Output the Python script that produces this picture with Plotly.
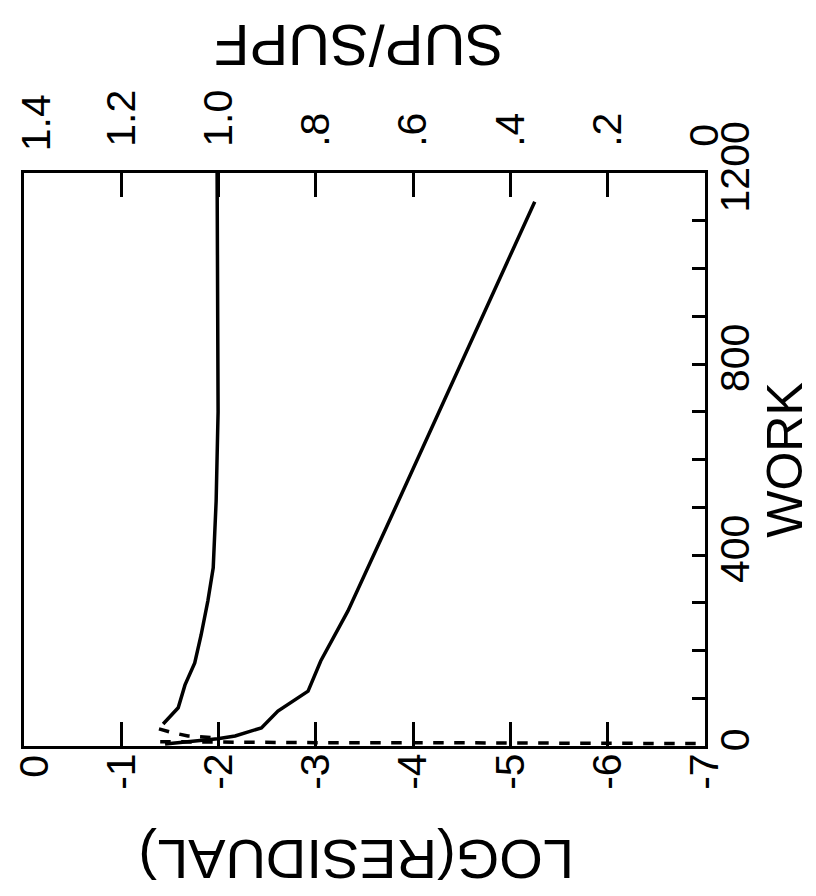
import plotly.graph_objects as go

# --- data ---
res_work = [4, 15, 21, 38, 73, 115, 178, 232, 283, 460, 660, 900, 1140]
res_log = [-1.45, -1.99, -2.17, -2.44, -2.61, -2.92, -3.05, -3.19, -3.33, -3.73, -4.18, -4.71, -5.25]

res2_work = [9, 8, 7, 7, 6, 6, 5]
res2_log = [-1.4, -2.0, -3.0, -4.0, -5.0, -6.0, -7.0]

sup_work = [46, 80, 128, 174, 232, 304, 373, 513, 700, 900, 1200]
sup_val = [1.114, 1.083, 1.069, 1.049, 1.036, 1.022, 1.011, 1.005, 1.001, 1.002, 1.003]

sup2_work = [36, 28, 21, 17]
sup2_val = [1.1225, 1.095, 1.063, 1.001]

work_ticks = list(range(0, 1201, 100))
work_text = [str(v) if v % 400 == 0 else "" for v in work_ticks]
log_ticks = [0, -1, -2, -3, -4, -5, -6, -7]
log_text = ["", "-1", "-2", "-3", "-4", "-5", "-6", "-7"]
sup_ticks = [1.4, 1.2, 1.0, 0.8, 0.6, 0.4, 0.2, 0.0]
sup_text = ["", "1.2", "1.0", ".8", ".6", ".4", ".2", "0"]

FONT = "Liberation Sans, Arial, sans-serif"
LW = 3.5
TICKFONT = dict(size=41, family=FONT, color="black")

fig = go.Figure()
fig.add_trace(go.Scatter(x=res_log, y=res_work, mode="lines", xaxis="x", yaxis="y",
                         line=dict(color="black", width=LW)))
fig.add_trace(go.Scatter(x=res2_log, y=res2_work, mode="lines", xaxis="x", yaxis="y",
                         line=dict(color="black", width=LW, dash="dash")))
fig.add_trace(go.Scatter(x=sup_val, y=sup_work, mode="lines", xaxis="x2", yaxis="y",
                         line=dict(color="black", width=LW)))
fig.add_trace(go.Scatter(x=sup2_val, y=sup2_work, mode="lines", xaxis="x2", yaxis="y",
                         line=dict(color="black", width=LW, dash="dash")))

common = dict(ticks="inside", tickwidth=3, tickcolor="black", showline=True, linewidth=3,
              linecolor="black", showgrid=False, zeroline=False, tickangle=-90,
              tickfont=TICKFONT, ticklabeloverflow="allow", automargin=False)

fig.update_layout(
    width=816, height=896,
    margin=dict(l=16, r=119, t=165, b=158, autoexpand=False),
    paper_bgcolor="white", plot_bgcolor="white",
    showlegend=False,
    font=dict(family=FONT, color="black"),
    xaxis=dict(range=[1e-6, -7], tickvals=log_ticks, ticktext=log_text, ticklen=24,
               ticklabelstandoff=-12, **common),
    xaxis2=dict(range=[1.400001, 0], overlaying="x", side="top", tickvals=sup_ticks,
                ticktext=sup_text, ticklen=24, ticklabelstandoff=15, **common),
    yaxis=dict(range=[0, 1200], side="right", tickvals=work_ticks, ticktext=work_text,
               ticklen=13, mirror=True, ticklabelstandoff=-8, **common),
)

# edge tick labels, nudged inward as in the reference
fig.add_annotation(text="0", xref="x", yref="paper", x=-0.10, y=-0.035, showarrow=False,
                   textangle=-90, xanchor="center", yanchor="middle", font=TICKFONT)
fig.add_annotation(text="1.4", xref="x2", yref="paper", x=1.375, y=1.087, showarrow=False,
                   textangle=-90, xanchor="center", yanchor="middle", font=TICKFONT)

ann = dict(xref="paper", yref="paper", showarrow=False, xanchor="center", yanchor="middle")
fig.add_annotation(text="LOG(RESIDUAL)", x=0.4875, y=-0.199, textangle=180,
                   font=dict(size=56, family=FONT), **ann)
fig.add_annotation(text="SUP/SUPF", x=0.492, y=1.2234, textangle=180,
                   font=dict(size=58, family=FONT), **ann)
fig.add_annotation(text="WORK", x=1.117, y=0.499, textangle=-90,
                   font=dict(size=50, family=FONT), **ann)

fig.write_html("out.html")
